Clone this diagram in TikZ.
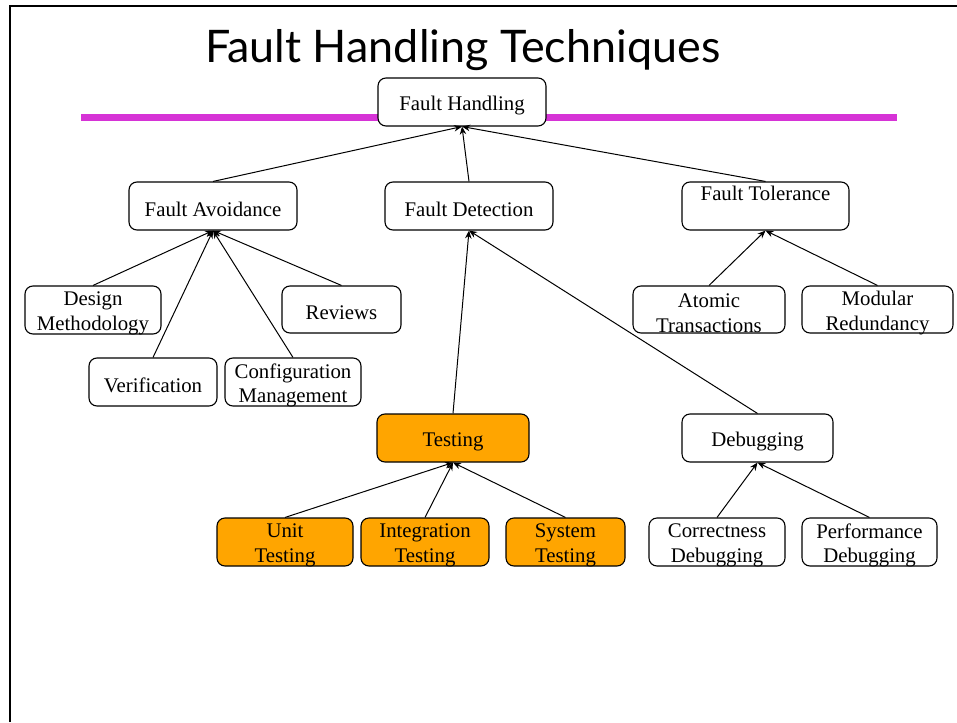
\documentclass[tikz,border=0pt]{standalone}
\usepackage{fontspec}
\setmainfont{Liberation Serif}
\newfontfamily\titlefont{Lato}
\usetikzlibrary{arrows.meta}
\definecolor{magbar}{RGB}{214,51,214}
\definecolor{testorange}{RGB}{255,165,0}
\begin{document}
\begin{tikzpicture}[x=1pt,y=-1pt,
  box/.style={draw=black,line width=1.1pt,rounded corners=8pt,inner sep=0pt,fill=white},
  obox/.style={box,fill=testorange},
  txt/.style={inner sep=0pt,align=center,font=\fontsize{20.8}{24.5}\selectfont},
  arr/.style={-{Stealth[length=8pt,width=6.5pt]},line width=1pt}]
\useasboundingbox (0,0) rectangle (957,722);
% slide frame
\draw[line width=2.4pt] (10,722) -- (10,6) -- (957,6);
% title
\node[anchor=base west,inner sep=0pt] (title) at (205,63)
  {\resizebox{515pt}{!}{\fontsize{44}{50}\titlefont Fault Handling Techniques}};
% magenta bar
\coordinate (barL) at (81,118);
\coordinate (barR) at (897,118);
\draw[magbar,line width=7pt] (barL) -- (barR);
% nodes: box, then its text slightly below centre
\newcommand\fhbox[6]{%
  \node[#1,minimum width=#4,minimum height=#5] (#2) at (#3) {};
  \node[txt] (#2-t) at ([yshift=-3.5pt]#2.center) {#6};}
\fhbox{box}{fh}{462,102}{168pt}{48pt}{Fault Handling}
\fhbox{box}{fa}{213,206}{168pt}{48pt}{Fault Avoidance}
\fhbox{box}{fd}{469,206}{168pt}{48pt}{Fault Detection}
\fhbox{box}{ft}{765.5,206}{167pt}{48pt}{Fault Tolerance\\\strut}
\fhbox{box}{dm}{93,310}{136pt}{48pt}{Design\\Methodology}
\fhbox{box}{rv}{341.5,309.5}{119pt}{47pt}{Reviews}
\fhbox{box}{vf}{153,382}{128pt}{48pt}{Verification}
\fhbox{box}{cm}{293,382}{136pt}{48pt}{Configuration\\Management}
\fhbox{box}{at}{709,309.5}{152pt}{47pt}{Atomic\\Transactions}
\fhbox{box}{mr}{877.5,309.5}{151pt}{47pt}{Modular\\Redundancy}
\fhbox{obox}{te}{453,438}{152pt}{48pt}{Testing}
\fhbox{box}{db}{757.5,438}{151pt}{48pt}{Debugging}
\fhbox{obox}{ut}{285,542}{136pt}{48pt}{Unit\\Testing}
\fhbox{obox}{it}{425,542}{128pt}{48pt}{Integration\\Testing}
\fhbox{obox}{st}{565.5,542}{119pt}{48pt}{System\\Testing}
\fhbox{box}{cd}{717,542}{136pt}{48pt}{Correctness\\Debugging}
\fhbox{box}{pd}{869.5,542}{135pt}{48pt}{Performance\\Debugging}
% connectors
\draw[arr] (fa.north) -- (fh.south);
\draw[arr] (fd.north) -- (fh.south);
\draw[arr] (ft.north) -- (fh.south);
\draw[arr] (dm.north) -- (fa.south);
\draw[arr] (vf.north) -- (fa.south);
\draw[arr] (cm.north) -- (fa.south);
\draw[arr] (rv.north) -- (fa.south);
\draw[arr] (te.north) -- (fd.south);
\draw[arr] (db.north) -- (fd.south);
\draw[arr] (at.north) -- (ft.south);
\draw[arr] (mr.north) -- (ft.south);
\draw[arr] (ut.north) -- (te.south);
\draw[arr] (it.north) -- (te.south);
\draw[arr] (st.north) -- (te.south);
\draw[arr] (cd.north) -- (db.south);
\draw[arr] (pd.north) -- (db.south);
\end{tikzpicture}
\end{document}
